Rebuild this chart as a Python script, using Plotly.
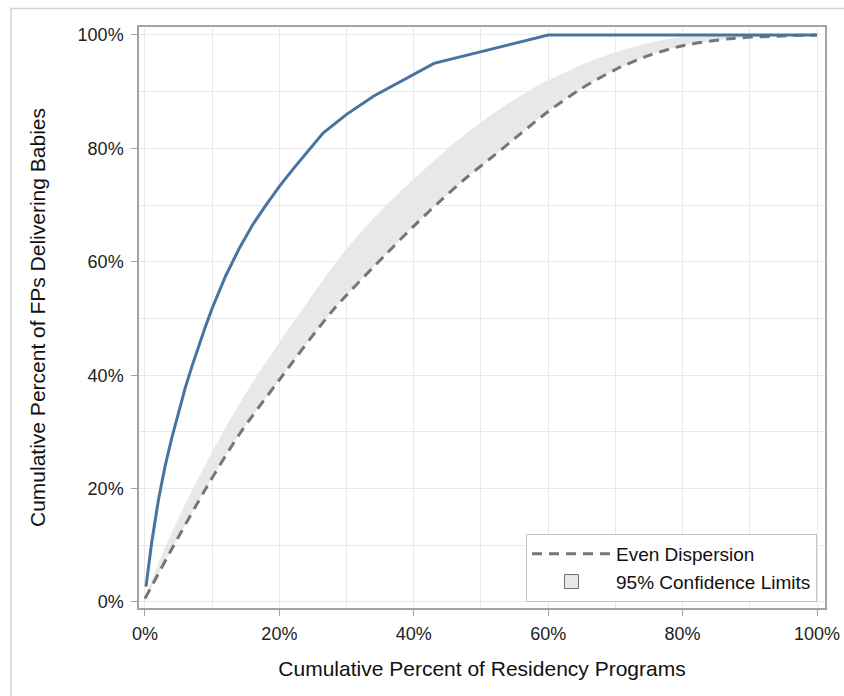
import plotly.graph_objects as go

# Observed cumulative curve (blue)
obs_x = [0.15, 1.0, 2.0, 3.0, 4.0, 5.0, 6.0, 7.0, 8.0, 9.0, 10.0, 12.0, 14.0, 16.0, 18.0, 20.0,
         22.0, 24.0, 26.5, 30.0, 34.0, 43.0, 60.0, 100.0]
obs_y = [2.7, 10.5, 18.0, 24.0, 29.0, 33.6, 37.8, 41.6, 45.2, 48.6, 51.8, 57.5, 62.3, 66.5, 70.0, 73.3,
         76.3, 79.2, 82.7, 86.0, 89.2, 95.0, 100.0, 100.0]

# Even dispersion (dashed)
even_x = [0.0, 4.2, 9.2, 14.0, 20.0, 28.0, 36.0, 40.0, 44.0, 48.0, 52.0, 56.0, 60.0, 65.0, 70.0,
          75.0, 80.0, 87.5, 100.0]
even_y = [0.6, 9.8, 20.3, 29.5, 39.2, 51.5, 61.5, 66.3, 70.8, 75.0, 78.8, 82.7, 86.5, 90.6, 93.9,
          96.4, 98.1, 99.4, 100.0]

# Upper 95% confidence limit (band lower edge = even dispersion)
upper_x = [0.0, 2.5, 5.0, 7.5, 10.0, 12.5, 15.0, 17.5, 20.0, 24.0, 29.0, 33.0, 38.0, 45.0, 50.0,
           54.0, 57.0, 60.0, 66.7, 72.7, 79.0, 85.0, 100.0]
upper_y = [0.6, 8.2, 14.8, 20.8, 26.5, 31.8, 36.8, 41.4, 45.8, 52.6, 60.8, 66.4, 72.4, 79.9, 84.6,
           87.9, 90.1, 92.0, 95.6, 97.9, 99.5, 100.0, 100.0]

x_ticks = [0, 20, 40, 60, 80, 100]
x_labels = ["0%", "20%", "40%", "60%", "80%", "100%"]
y_ticks = [0, 20, 40, 60, 80, 100]
y_labels = ["0%", "20%", "40%", "60%", "80%", "100%"]

FONT = "Liberation Sans, Arial, sans-serif"
FRAME = "#a3a3a3"
GRID = "#e9e9e9"

fig = go.Figure()

band_x = upper_x + even_x[::-1][1:]
band_y = upper_y + even_y[::-1][1:]
fig.add_trace(go.Scatter(x=band_x, y=band_y, fill="toself", fillcolor="#e8e8e8",
                         line=dict(width=0, shape="spline", smoothing=0.8), mode="lines",
                         showlegend=False, hoverinfo="skip"))

fig.add_trace(go.Scatter(x=even_x, y=even_y, mode="lines", name="Even Dispersion",
                         line=dict(color="#767676", width=3, dash="10px,7px",
                                   shape="spline", smoothing=0.8)))

fig.add_trace(go.Scatter(x=[None], y=[None], mode="markers", name="95% Confidence Limits",
                         marker=dict(symbol="square", size=14, color="#e8e8e8",
                                     line=dict(color="#6e6e6e", width=1))))

fig.add_trace(go.Scatter(x=obs_x, y=obs_y, mode="lines", showlegend=False,
                         line=dict(color="#4874a1", width=3)))

axis_common = dict(
    showline=True, linecolor=FRAME, linewidth=1.5, mirror=True,
    ticks="outside", ticklen=6, tickcolor=FRAME, tickwidth=1,
    showgrid=True, gridcolor=GRID, gridwidth=1, zeroline=False,
    tickfont=dict(family=FONT, size=18, color="#222222"),
    minor=dict(dtick=10, showgrid=True, gridcolor=GRID, gridwidth=1, ticks=""),
)

fig.update_xaxes(range=[-0.89, 101.19], tickmode="array", tickvals=x_ticks, ticktext=x_labels,
                 ticklabelstandoff=3,
                 title=dict(text="Cumulative Percent of Residency Programs",
                            font=dict(family=FONT, size=21, color="#111111"), standoff=18),
                 **axis_common)
fig.update_yaxes(range=[-1.06, 101.41], tickmode="array", tickvals=y_ticks, ticktext=y_labels,
                 ticklabelstandoff=4,
                 title=dict(text="Cumulative Percent of FPs Delivering Babies",
                            font=dict(family=FONT, size=21, color="#111111"), standoff=26),
                 **axis_common)

L, R, T, B = 139, 19, 27, 88
W, H = 844, 696
pw, ph = W - L - R, H - T - B

fig.add_shape(type="rect", xref="paper", yref="paper",
              x0=(11 - L) / pw, x1=(870 - L) / pw,
              y0=(H - B - 730) / ph, y1=(H - B - 8.5) / ph,
              line=dict(color="#d4d4d4", width=1.5), fillcolor="rgba(0,0,0,0)", layer="below")

fig.update_layout(
    width=W, height=H,
    margin=dict(l=L, r=R, t=T, b=B, autoexpand=False),
    paper_bgcolor="white", plot_bgcolor="white",
    font=dict(family=FONT, color="#111111"),
    legend=dict(x=(817 - L) / pw, y=(H - B - 602) / ph, xanchor="right", yanchor="bottom",
                bgcolor="white", bordercolor="#c4c4c4", borderwidth=1,
                font=dict(family=FONT, size=19, color="#111111"),
                itemwidth=79, tracegroupgap=0),
    showlegend=True,
)

fig.write_html("out.html", config={"displayModeBar": False},
               post_script="document.body.style.margin='0';document.body.style.overflow='hidden';")
